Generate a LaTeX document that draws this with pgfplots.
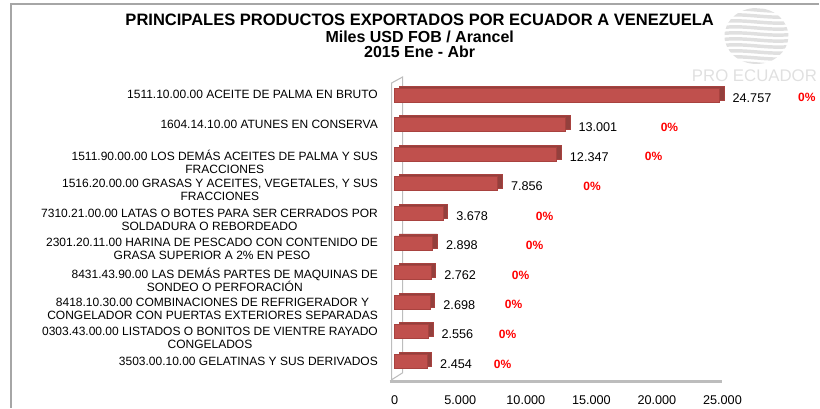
\documentclass[border=0pt]{standalone}
\usepackage{fontspec}
\setmainfont{Liberation Sans}
\usepackage{pgfplots}
\pgfplotsset{compat=1.18}
\definecolor{barred}{HTML}{C0504D}
\definecolor{barside}{HTML}{93403D}
\definecolor{barline}{HTML}{A8423F}
\definecolor{framegray}{HTML}{A6A6A6}
\definecolor{wallgray}{HTML}{BDBDBD}
\definecolor{marklight}{HTML}{E0E0E0}

\begin{document}
\begin{tikzpicture}
% page frame, logo, titles and 3D walls, in pixel units of the reference
\begin{scope}[x=0.75pt,y=-0.75pt]
\useasboundingbox (0,0) rectangle (820,408);
\draw[framegray, line width=1.5pt] (11,408) -- (11,4) -- (820,4);
\begin{scope}
\clip (757,36) ellipse (32 and 28);
\foreach \yy in {10,16,...,64}
  \draw[marklight, line width=2.6pt] (720,\yy) .. controls (745,\yy-4) and (770,\yy+4) .. (795,\yy);
\end{scope}
\node[marklight, font=\fontsize{12.6}{14}\selectfont] at (755,76) {PRO ECUADOR};
\node[font=\bfseries\fontsize{12.4}{14}\selectfont] at (420,20) {PRINCIPALES PRODUCTOS EXPORTADOS POR ECUADOR A VENEZUELA};
\node[font=\bfseries\fontsize{12}{14}\selectfont] at (420,37) {Miles USD FOB / Arancel};
\node[font=\bfseries\fontsize{12}{14}\selectfont] at (420,52) {2015 Ene - Abr};
\draw[wallgray, line width=0.8pt] (392,380) -- (392,83) -- (403,77) -- (403,373) -- cycle;
\draw[wallgray, line width=2pt] (390,382) -- (723,382);
\end{scope}

\begin{axis}[
    at={(296.25pt,-282.2pt)}, anchor=south west,
    scale only axis,
    width=246pt, height=222pt,
    xmin=0, xmax=25000,
    ymin=0.5, ymax=10.5,
    y dir=reverse,
    clip=false,
    axis line style={draw=none},
    major tick length=0pt,
    xtick={0,5000,...,25000},
    scaled x ticks=false,
    /pgf/number format/1000 sep={.},
    /pgf/number format/assume math mode=true,
    ytick={1,...,10},
    yticklabels={
      1511.10.00.00 ACEITE DE PALMA EN BRUTO,
      1604.14.10.00 ATUNES EN CONSERVA,
      {1511.90.00.00 LOS DEMÁS ACEITES DE PALMA Y SUS\\FRACCIONES},
      {1516.20.00.00 GRASAS Y ACEITES, VEGETALES, Y SUS\\FRACCIONES},
      {7310.21.00.00 LATAS O BOTES PARA SER CERRADOS POR\\SOLDADURA O REBORDEADO},
      {2301.20.11.00 HARINA DE PESCADO CON CONTENIDO DE\\GRASA SUPERIOR A 2\% EN PESO},
      {8431.43.90.00 LAS DEMÁS PARTES DE MAQUINAS DE\\SONDEO O PERFORACIÓN},
      {8418.10.30.00 COMBINACIONES DE REFRIGERADOR Y\\CONGELADOR CON PUERTAS EXTERIORES SEPARADAS},
      {0303.43.00.00 LISTADOS O BONITOS DE VIENTRE RAYADO\\CONGELADOS},
      3503.00.10.00 GELATINAS Y SUS DERIVADOS
    },
    xticklabel style={font=\fontsize{9.5}{11}\selectfont, yshift=-11pt},
    yticklabel style={font=\fontsize{9}{9.75}\selectfont, align=center,
      anchor=north east, inner sep=1pt, xshift=-11.5pt, yshift=4.5pt},
]
\addplot[xbar, bar width=10.5pt, fill=barred, draw=barline,
    preaction={fill=barside, transform canvas={xshift=3.5pt, yshift=1.5pt}},
    point meta=x, nodes near coords,
    every node near coord/.append style={font=\fontsize{9.5}{11}\selectfont, black,
      xshift=6.5pt, yshift=-2pt}]
coordinates {
(24757,1) (13001,2) (12347,3) (7856,4) (3678,5)
(2898,6) (2762,7) (2698,8) (2556,9) (2454,10)
};
\addplot[draw=none, mark=none, point meta=x, nodes near coords={0\%},
    every node near coord/.append style={anchor=center, red,
      font=\bfseries\fontsize{9}{10}\selectfont, yshift=-2pt}]
coordinates {
(31441,1) (20960,2) (19741,3) (15053,4) (11433,5)
(10671,6) (9604,7) (9070,8) (8613,9) (8232,10)
};
\end{axis}
\end{tikzpicture}
\end{document}
